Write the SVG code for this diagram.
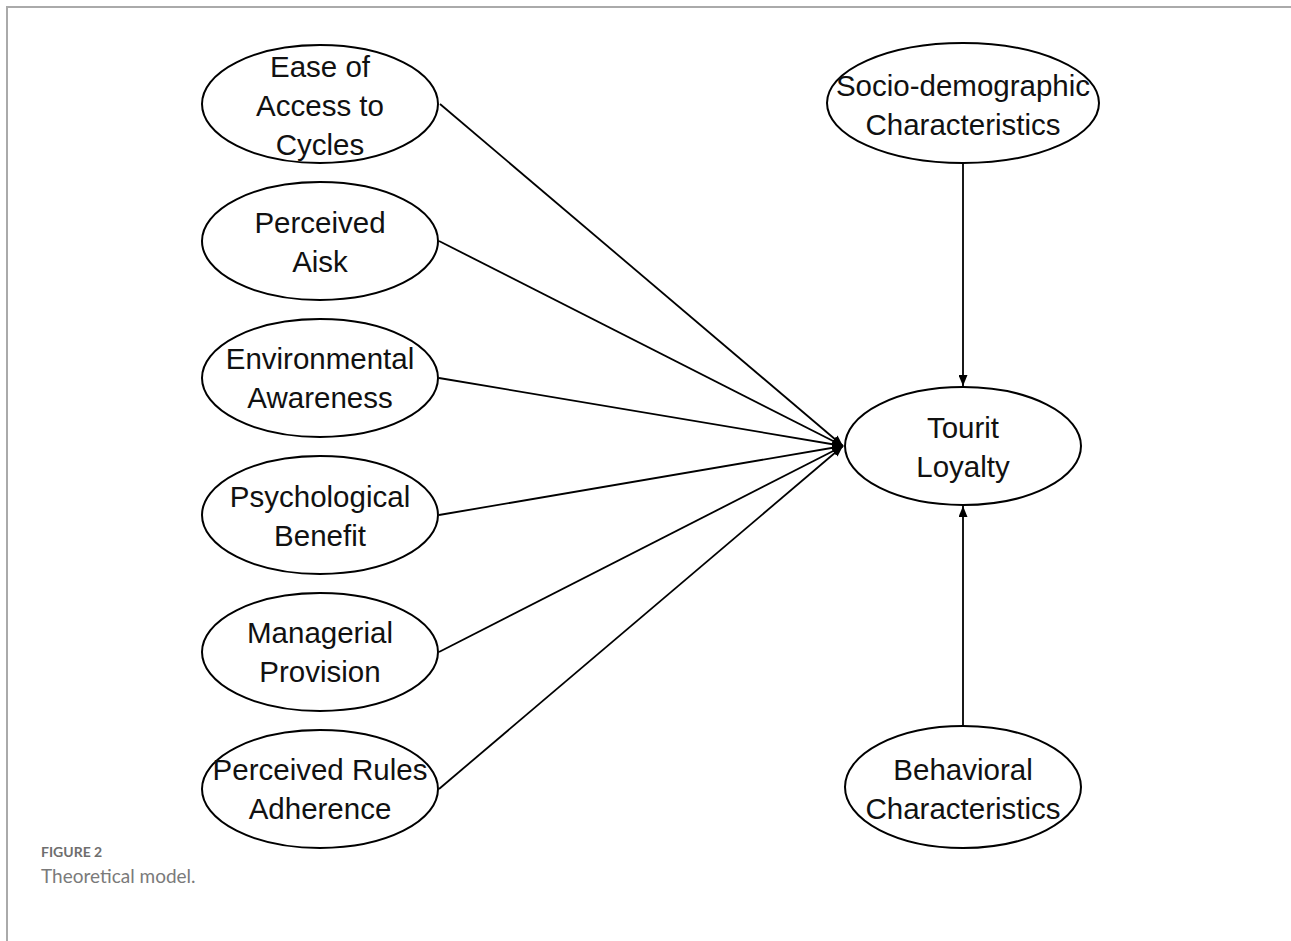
<svg xmlns="http://www.w3.org/2000/svg" width="1291" height="941" viewBox="0 0 1291 941">
<style>
.n{fill:#fff;stroke:#000;stroke-width:2}
.t{font-family:"Liberation Sans",Arial,sans-serif;font-size:29.5px;fill:#111;text-anchor:middle}
.c line{stroke:#000;stroke-width:1.8}
.cap1{font-family:Lato,"Open Sans",sans-serif;font-size:14px;font-weight:bold;fill:#6e6e6e}
.cap2{font-family:Lato,"Open Sans",sans-serif;font-size:19px;fill:#7a7a7a}
</style>
<defs>
<marker id="ah" markerWidth="11" markerHeight="9" refX="11" refY="4.5" orient="auto" markerUnits="userSpaceOnUse">
<path d="M0,0 L11,4.5 L0,9 Z" fill="#000"/>
</marker>
</defs>
<rect width="1291" height="941" fill="#fff"/>
<path d="M7,941 V7 H1291" fill="none" stroke="#aaa" stroke-width="2"/>
<g class="c" id="connectors">
<line x1="440" y1="104" x2="843" y2="446" marker-end="url(#ah)"/>
<line x1="439" y1="241" x2="843" y2="446" marker-end="url(#ah)"/>
<line x1="439" y1="378" x2="843" y2="446" marker-end="url(#ah)"/>
<line x1="439" y1="515" x2="843" y2="446" marker-end="url(#ah)"/>
<line x1="439" y1="652" x2="843" y2="446" marker-end="url(#ah)"/>
<line x1="439" y1="789" x2="843" y2="446" marker-end="url(#ah)"/>
<line x1="963" y1="164" x2="963" y2="386" marker-end="url(#ah)"/>
<line x1="963" y1="726" x2="963" y2="506" marker-end="url(#ah)"/>
</g>
<g id="n1"><ellipse class="n" cx="320" cy="104" rx="118" ry="59"/><text class="t" x="320" y="77">Ease of</text><text class="t" x="320" y="116">Access to</text><text class="t" x="320" y="155">Cycles</text></g>
<g id="n2"><ellipse class="n" cx="320" cy="241" rx="118" ry="59"/><text class="t" x="320" y="233">Perceived</text><text class="t" x="320" y="272">Aisk</text></g>
<g id="n3"><ellipse class="n" cx="320" cy="378" rx="118" ry="59"/><text class="t" x="320" y="369">Environmental</text><text class="t" x="320" y="408">Awareness</text></g>
<g id="n4"><ellipse class="n" cx="320" cy="515" rx="118" ry="59"/><text class="t" x="320" y="507">Psychological</text><text class="t" x="320" y="546">Benefit</text></g>
<g id="n5"><ellipse class="n" cx="320" cy="652" rx="118" ry="59"/><text class="t" x="320" y="643">Managerial</text><text class="t" x="320" y="682">Provision</text></g>
<g id="n6"><ellipse class="n" cx="320" cy="789" rx="118" ry="59"/><text class="t" x="320" y="780">Perceived Rules</text><text class="t" x="320" y="819">Adherence</text></g>
<g id="n7"><ellipse class="n" cx="963" cy="103" rx="136" ry="60"/><text class="t" x="963" y="96">Socio-demographic</text><text class="t" x="963" y="135">Characteristics</text></g>
<g id="n8"><ellipse class="n" cx="963" cy="446" rx="118" ry="59"/><text class="t" x="963" y="438">Tourit</text><text class="t" x="963" y="477">Loyalty</text></g>
<g id="n9"><ellipse class="n" cx="963" cy="787" rx="118" ry="61"/><text class="t" x="963" y="780">Behavioral</text><text class="t" x="963" y="819">Characteristics</text></g>
<text class="cap1" x="41" y="857">FIGURE 2</text>
<text class="cap2" x="41" y="883">Theoretical model.</text>
</svg>
